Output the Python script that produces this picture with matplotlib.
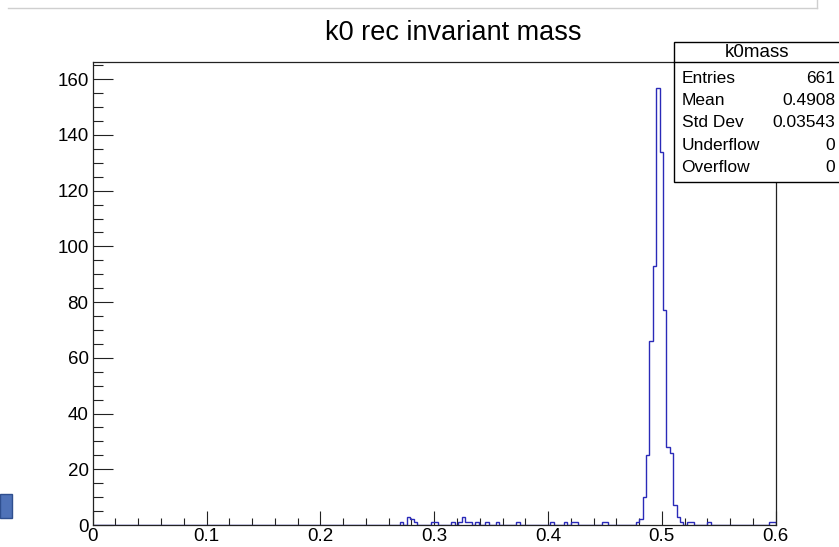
import numpy as np
import matplotlib
matplotlib.use("Agg")
import matplotlib.pyplot as plt
from matplotlib.ticker import MultipleLocator
from matplotlib.patches import Rectangle
from matplotlib.lines import Line2D

plt.rcParams['font.family'] = ['Liberation Sans', 'DejaVu Sans']

# ---- data ----
title = "k0 rec invariant mass"
hist_name = "k0mass"
bin_lo, bin_hi, n_bins = 0.0, 0.6, 200
# lower edges of non-empty bins (GeV) and their counts
bin_left_edges = [0.270, 0.276, 0.279, 0.282, 0.297, 0.300, 0.315, 0.321, 0.324, 0.327,
                  0.330, 0.336, 0.345, 0.354, 0.372, 0.402, 0.414, 0.420, 0.423, 0.447,
                  0.450, 0.477, 0.480, 0.483, 0.486, 0.489, 0.492, 0.495, 0.498, 0.501,
                  0.504, 0.507, 0.510, 0.513, 0.516, 0.522, 0.525, 0.540, 0.594, 0.597]
bin_counts = [1, 3, 2, 1, 1, 1, 1, 1, 3, 1,
              1, 1, 1, 1, 1, 1, 1, 1, 1, 1,
              1, 1, 2, 10, 25, 66, 93, 157, 134, 77,
              28, 26, 7, 3, 1, 1, 1, 1, 1, 1]
stat_labels = ["Entries", "Mean", "Std Dev", "Underflow", "Overflow"]
stat_values = ["661", "0.4908", "0.03543", "0", "0"]
x_tick_labels = ["0", "0.1", "0.2", "0.3", "0.4", "0.5", "0.6"]

W, H = 839, 547
fig = plt.figure(figsize=(W / 100, H / 100), dpi=100)

def fx(px):
    return px / W

def fy(py):
    return 1 - py / H

ax_l, ax_r, ax_t, ax_b = 92.7, 775.7, 62.0, 525.0
ax = fig.add_axes([fx(ax_l), fy(ax_b), fx(ax_r - ax_l), (ax_b - ax_t) / H])

edges = np.linspace(bin_lo, bin_hi, n_bins + 1)
width = (bin_hi - bin_lo) / n_bins
centers = np.array(bin_left_edges) + width / 2
ax.hist(centers, bins=edges, weights=bin_counts, histtype='step',
        color='#2a2ab8', linewidth=1.0)

ax.set_xlim(bin_lo, bin_hi)
ax.set_ylim(0, 166.2)
ax.xaxis.set_minor_locator(MultipleLocator(0.02))
ax.yaxis.set_major_locator(MultipleLocator(20))
ax.yaxis.set_minor_locator(MultipleLocator(5))
ax.set_xticks(np.linspace(bin_lo, bin_hi, len(x_tick_labels)))
ax.set_xticklabels(x_tick_labels)
ax.tick_params(axis='both', which='both', direction='in', color='#222222',
               width=0.8, labelsize=13.5, top=False, right=False)
ax.tick_params(axis='x', which='major', length=10, pad=2)
ax.tick_params(axis='x', which='minor', length=5)
ax.tick_params(axis='y', which='major', length=14.7, pad=3)
ax.tick_params(axis='y', which='minor', length=7.4)
for s in ax.spines.values():
    s.set_color('#222222')
    s.set_linewidth(0.9)

# title
fig.text(fx(453), fy(33), title, ha='center', va='center', fontsize=19.5)

# stats box
bx0, by0, bx1, by1 = 673.5, 41.7, 842, 181.7
fig.patches.append(Rectangle((fx(bx0), fy(by1)), fx(bx1 - bx0), (by1 - by0) / H,
                             transform=fig.transFigure, facecolor='white',
                             edgecolor='black', linewidth=1.0, zorder=5, clip_on=False))
fig.lines.append(Line2D([fx(bx0), fx(bx1)], [fy(61.7), fy(61.7)],
                        transform=fig.transFigure, color='black', linewidth=1.0, zorder=6))
fig.text(fx(757), fy(52.5), hist_name, ha='center', va='center', fontsize=13.5, zorder=7)
for k, (lab, val) in enumerate(zip(stat_labels, stat_values)):
    yy = 78.3 + 22.3 * k
    fig.text(fx(681.5), fy(yy), lab, ha='left', va='center', fontsize=12.5, zorder=7)
    fig.text(fx(835.5), fy(yy), val, ha='right', va='center', fontsize=12.5, zorder=7)

# window decorations visible in the screenshot
fig.lines.append(Line2D([fx(8), fx(817)], [fy(8), fy(8)], transform=fig.transFigure,
                        color='#cfcfcf', linewidth=1.0))
fig.lines.append(Line2D([fx(817), fx(817)], [fy(8), fy(0)], transform=fig.transFigure,
                        color='#cfcfcf', linewidth=1.0))
fig.patches.append(Rectangle((fx(0), fy(518)), fx(12), 24 / H, transform=fig.transFigure,
                             facecolor='#4f72b8', edgecolor='#2f4f8f', linewidth=1.0))

fig.savefig("out.png", dpi=100)
